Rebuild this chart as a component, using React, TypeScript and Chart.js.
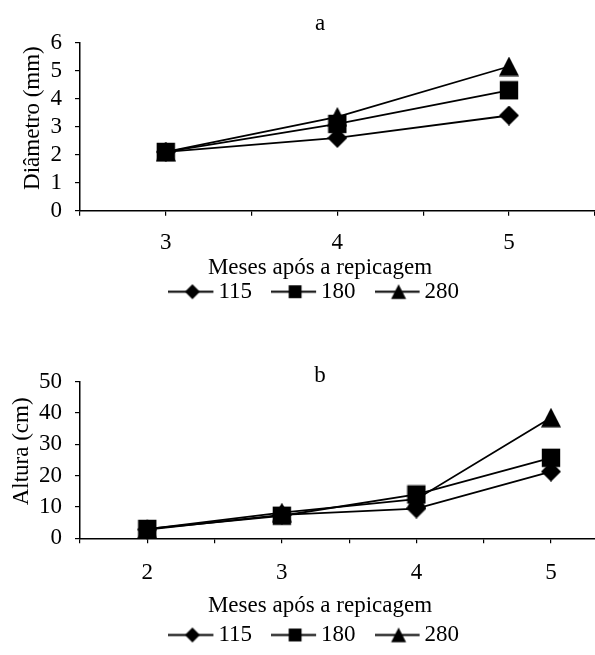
import React, { useEffect, useRef } from 'react';
import { Chart, registerables } from 'chart.js';

Chart.register(...registerables);

// ---- data ----
const seriesNames = ['115', '180', '280'];

const monthsA = [3, 4, 5];
const diam115 = [2.1, 2.6, 3.4];
const diam180 = [2.1, 3.1, 4.3];
const diam280 = [2.1, 3.35, 5.15];

const monthsB = [2, 3, 4, 5];
const alt115 = [2.8, 7.5, 9.5, 21.3];
const alt180 = [3.0, 7.2, 14.0, 25.7];
const alt280 = [2.9, 8.2, 12.5, 38.5];

const yTicksA = [0, 1, 2, 3, 4, 5, 6];
const yTicksB = [0, 10, 20, 30, 40, 50];
const xTicksA = [2.5, 3, 3.5, 4, 4.5, 5, 5.5];
const xTicksB = [1.5, 2, 2.5, 3, 3.5, 4, 4.5, 5, 5.5];

const titleA = 'a';
const titleB = 'b';
const yTitleA = 'Diâmetro (mm)';
const yTitleB = 'Altura (cm)';
const xTitle = 'Meses após a repicagem';

const shapes = ['diamond', 'square', 'triangle'];

const FS = 23;

function makeImage(shape: string, s: number, withLine: boolean): HTMLCanvasElement {
  const w = withLine ? 51 : s;
  const h = withLine ? 21 : s;
  const c = document.createElement('canvas');
  c.width = w;
  c.height = h;
  const g = c.getContext('2d') as CanvasRenderingContext2D;
  g.fillStyle = '#000';
  g.strokeStyle = '#000';
  const cx = withLine ? 24 : s / 2;
  const cy = h / 2;
  if (withLine) {
    g.lineWidth = 1.8;
    g.beginPath();
    g.moveTo(0, cy);
    g.lineTo(45, cy);
    g.stroke();
  }
  const r = s / 2;
  g.beginPath();
  if (shape === 'diamond') {
    g.moveTo(cx, cy - r);
    g.lineTo(cx + r, cy);
    g.lineTo(cx, cy + r);
    g.lineTo(cx - r, cy);
  } else if (shape === 'square') {
    const q = r * 0.92;
    g.rect(cx - q, cy - q, 2 * q, 2 * q);
  } else {
    g.moveTo(cx, cy - r);
    g.lineTo(cx + r, cy + r * 0.95);
    g.lineTo(cx - r, cy + r * 0.95);
  }
  g.closePath();
  g.fill();
  return c;
}

interface Layout {
  titleText: string;
  titlePad: { top: number; bottom: number };
  yTitleText: string;
  yTitlePad: { top: number; bottom: number };
  yMax: number;
  yTicks: number[];
  xMin: number;
  xMax: number;
  xTicks: number[];
  xs: number[];
  xPad: number;
  subPad: { top: number; bottom: number };
  layoutBottom: number;
}

function buildConfig(series: number[][], L: Layout, markers: HTMLCanvasElement[], legendImgs: HTMLCanvasElement[]): any {
  const font = { size: FS, lineHeight: 1 };
  const gridOpts = {
    display: true,
    drawOnChartArea: false,
    drawTicks: true,
    tickLength: 5,
    color: '#000',
    tickColor: '#000',
    lineWidth: 1.2,
  };
  const borderOpts = { display: true, color: '#000', width: 1.5 };
  return {
    type: 'line',
    data: {
      datasets: series.map((vals, i) => ({
        label: seriesNames[i],
        data: L.xs.map((x, j) => ({ x, y: vals[j] })),
        borderColor: '#000',
        backgroundColor: '#000',
        borderWidth: 1.8,
        pointStyle: markers[i],
        pointRadius: 10,
        pointHoverRadius: 10,
        tension: 0,
        fill: false,
        clip: false,
      })),
    },
    options: {
      responsive: false,
      animation: false,
      devicePixelRatio: 1,
      layout: { padding: { left: 0, right: 0, top: 0, bottom: L.layoutBottom } },
      scales: {
        x: {
          type: 'linear',
          min: L.xMin,
          max: L.xMax,
          afterBuildTicks: (s: any) => {
            s.ticks = L.xTicks.map((v) => ({ value: v }));
          },
          ticks: {
            autoSkip: false,
            maxRotation: 0,
            padding: L.xPad,
            font,
            color: '#000',
            callback: (v: any) => (L.xs.includes(Number(v)) ? String(v) : ''),
          },
          grid: gridOpts,
          border: borderOpts,
        },
        y: {
          min: 0,
          max: L.yMax,
          afterBuildTicks: (s: any) => {
            s.ticks = L.yTicks.map((v) => ({ value: v }));
          },
          ticks: { autoSkip: false, padding: 13, font, color: '#000' },
          grid: gridOpts,
          border: borderOpts,
          title: {
            display: true,
            text: '   ' + L.yTitleText,
            font,
            color: '#000',
            padding: L.yTitlePad,
          },
        },
      },
      plugins: {
        tooltip: { enabled: false },
        title: {
          display: true,
          text: L.titleText,
          font: { size: FS, weight: 'normal', lineHeight: 1 },
          color: '#000',
          padding: L.titlePad,
        },
        subtitle: {
          display: true,
          text: xTitle,
          position: 'bottom',
          weight: 500,
          font: { size: FS, weight: 'normal', lineHeight: 1 },
          color: '#000',
          padding: L.subPad,
        },
        legend: {
          display: true,
          position: 'bottom',
          weight: 1000,
          labels: {
            usePointStyle: true,
            pointStyleWidth: 26,
            padding: 31.5,
            font,
            color: '#000',
            generateLabels: (chart: any) => {
              const items = (Chart.defaults.plugins.legend.labels as any).generateLabels(chart);
              items.forEach((it: any, i: number) => {
                it.pointStyle = legendImgs[i];
                it.lineWidth = 0;
              });
              return items;
            },
          },
        },
      },
    },
  };
}

export default function App() {
  const refA = useRef<HTMLCanvasElement>(null);
  const refB = useRef<HTMLCanvasElement>(null);

  useEffect(() => {
    Chart.defaults.font.family = "'Liberation Serif', 'Times New Roman', serif";
    Chart.defaults.color = '#000';
    const markers = [
      makeImage(shapes[0], 20, false),
      makeImage(shapes[1], 20, false),
      makeImage(shapes[2], 20, false),
    ];
    const legendImgs = [
      makeImage(shapes[0], 15, true),
      makeImage(shapes[1], 14, true),
      makeImage(shapes[2], 15, true),
    ];
    const cfgA = buildConfig(
      [diam115, diam180, diam280],
      {
        titleText: titleA,
        titlePad: { top: 12.44, bottom: 7.26 },
        yTitleText: yTitleA,
        yTitlePad: { top: 21.5, bottom: -7 },
        yMax: 6,
        yTicks: yTicksA,
        xMin: 2.5,
        xMax: 5.695,
        xTicks: xTicksA,
        xs: monthsA,
        xPad: 15.8,
        subPad: { top: -13.8, bottom: -30.8 },
        layoutBottom: 1.2,
      },
      markers,
      legendImgs
    );
    const cfgB = buildConfig(
      [alt115, alt180, alt280],
      {
        titleText: titleB,
        titlePad: { top: 44.04, bottom: -5.34 },
        yTitleText: yTitleB,
        yTitlePad: { top: 10, bottom: -7 },
        yMax: 50,
        yTicks: yTicksB,
        xMin: 1.5,
        xMax: 5.574,
        xTicks: xTicksB,
        xs: monthsB,
        xPad: 18.4,
        subPad: { top: -8.3, bottom: -25.8 },
        layoutBottom: 0.4,
      },
      markers,
      legendImgs
    );
    const a = new Chart(refA.current as HTMLCanvasElement, cfgA);
    const b = new Chart(refB.current as HTMLCanvasElement, cfgB);
    return () => {
      a.destroy();
      b.destroy();
    };
  }, []);

  return (
    <div
      style={{
        position: 'absolute',
        left: 0,
        top: 0,
        width: 595,
        height: 655,
        overflow: 'hidden',
        background: '#fff',
      }}
    >
      <canvas ref={refA} width={640} height={336} style={{ position: 'absolute', left: 0, top: 0 }} />
      <canvas ref={refB} width={640} height={348} style={{ position: 'absolute', left: 0, top: 320 }} />
    </div>
  );
}
